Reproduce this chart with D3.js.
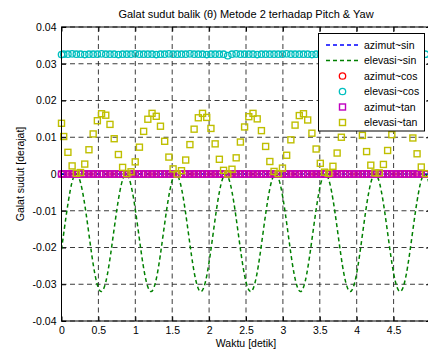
<!DOCTYPE html>
<html>
<head>
<meta charset="utf-8">
<script src="https://cdn.jsdelivr.net/npm/d3@7"></script>
<style>
body { margin: 0; background: #fff; }
svg { display: block; font-family: "Liberation Sans", Arial, sans-serif; }
</style>
</head>
<body>
<div id="vis"></div>
<script>
// marker sample times [detik]
const tMarker = [
  0, 0.030, 0.087, 0.144, 0.201, 0.258, 0.315, 0.372, 0.429, 0.486,
  0.543, 0.600, 0.657, 0.714, 0.771, 0.828, 0.885, 0.942, 0.999, 1.056,
  1.113, 1.170, 1.227, 1.284, 1.341, 1.398, 1.455, 1.512, 1.569, 1.626,
  1.683, 1.740, 1.797, 1.854, 1.911, 1.968, 2.025, 2.082, 2.139, 2.196,
  2.253, 2.310, 2.367, 2.424, 2.481, 2.538, 2.595, 2.652, 2.709, 2.766,
  2.823, 2.880, 2.937, 2.994, 3.051, 3.108, 3.165, 3.222, 3.279, 3.336,
  3.393, 3.450, 3.507, 3.564, 3.621, 3.678, 3.735, 3.792, 3.849, 3.906,
  3.963, 4.020, 4.077, 4.134, 4.191, 4.248, 4.305, 4.362, 4.419, 4.476,
  4.533, 4.590, 4.647, 4.704, 4.761, 4.818, 4.875, 4.932
];
const azimutCos = [
  0, 0, 0, 0, 0, 0, 0, 0, 0, 0,
  0, 0, 0, 0, 0, 0, 0, 0, 0, 0,
  0, 0, 0, 0, 0, 0, 0, 0, 0, 0,
  0, 0, 0, 0, 0, 0, 0, 0, 0, 0,
  0, 0, 0, 0, 0, 0, 0, 0, 0, 0,
  0, 0, 0, 0, 0, 0, 0, 0, 0, 0,
  0, 0, 0, 0, 0, 0, 0, 0, 0, 0,
  0, 0, 0, 0, 0, 0, 0, 0, 0, 0,
  0, 0, 0, 0, 0, 0, 0, 0
];
const elevasiCos = [
  0.0325, 0.0326, 0.0326, 0.0327, 0.0326, 0.0326, 0.0325, 0.0326, 0.0326, 0.0326,
  0.0327, 0.0326, 0.0326, 0.0326, 0.0325, 0.0326, 0.0326, 0.0326, 0.0327, 0.0326,
  0.0326, 0.0326, 0.0326, 0.0325, 0.0326, 0.0326, 0.0327, 0.0326, 0.0326, 0.0326,
  0.0326, 0.0327, 0.0326, 0.0326, 0.0326, 0.0325, 0.0326, 0.0326, 0.0326, 0.0326,
  0.0322, 0.0326, 0.0327, 0.0326, 0.0326, 0.0326, 0.0326, 0.0325, 0.0326, 0.0326,
  0.0326, 0.0326, 0.0326, 0.0326, 0.0327, 0.0326, 0.0326, 0.0326, 0.0326, 0.0326,
  0.0325, 0.0326, 0.0326, 0.0326, 0.0326, 0.0326, 0.0327, 0.0326, 0.0326, 0.0326,
  0.0326, 0.0326, 0.0326, 0.0325, 0.0326, 0.0323, 0.0326, 0.0326, 0.0327, 0.0326,
  0.0326, 0.0326, 0.0326, 0.0326, 0.0326, 0.0325, 0.0326, 0.0326
];
const azimutTan = [
  0, 0, 0, 0, 0, 0, 0, 0, 0, 0,
  0, 0, 0, 0, 0, 0, 0, 0, 0, 0,
  0, 0, 0, 0, 0, 0, 0, 0, 0, 0,
  0, 0, 0, 0, 0, 0, 0, 0, 0, 0,
  0, 0, 0, 0, 0, 0, 0, 0, 0, 0,
  0, 0, 0, 0, 0, 0, 0, 0, 0, 0,
  0, 0, 0, 0, 0, 0, 0, 0, 0, 0,
  0, 0, 0, 0, 0, 0, 0, 0, 0, 0,
  0, 0, 0, 0, 0, 0, 0, 0
];
const elevasiTan = [
  0.0138, 0.0102, 0.0059, 0.0022, 0.0002, 0.0004, 0.0027, 0.0066, 0.0109, 0.0145,
  0.0164, 0.0160, 0.0135, 0.0096, 0.0053, 0.0018, 0.0001, 0.0006, 0.0033, 0.0073,
  0.0116, 0.0149, 0.0165, 0.0157, 0.0130, 0.0089, 0.0046, 0.0014, 0.0000, 0.0009,
  0.0038, 0.0080, 0.0122, 0.0153, 0.0165, 0.0154, 0.0124, 0.0082, 0.0040, 0.0010,
  0.0000, 0.0013, 0.0044, 0.0087, 0.0128, 0.0156, 0.0165, 0.0150, 0.0118, 0.0075,
  0.0034, 0.0007, 0.0001, 0.0016, 0.0051, 0.0093, 0.0133, 0.0159, 0.0164, 0.0147,
  0.0111, 0.0068, 0.0029, 0.0005, 0.0002, 0.0021, 0.0057, 0.0100, 0.0138, 0.0162,
  0.0163, 0.0142, 0.0105, 0.0061, 0.0024, 0.0003, 0.0003, 0.0026, 0.0064, 0.0107,
  0.0143, 0.0163, 0.0161, 0.0137, 0.0098, 0.0055, 0.0019, 0.0001
];

// line series (read at peaks, troughs and in between)
const tSin = [
  0, 0.031, 0.116, 0.200, 0.284, 0.369, 0.453, 0.538, 0.622, 0.706,
  0.791, 0.875, 0.959, 1.044, 1.128, 1.213, 1.297, 1.381, 1.466, 1.550,
  1.634, 1.719, 1.803, 1.888, 1.972, 2.056, 2.141, 2.225, 2.309, 2.394,
  2.478, 2.563, 2.647, 2.731, 2.816, 2.900, 2.984, 3.069, 3.153, 3.238,
  3.322, 3.406, 3.491, 3.575, 3.659, 3.744, 3.828, 3.913, 3.997, 4.081,
  4.166, 4.250, 4.334, 4.419, 4.503, 4.588, 4.672, 4.756, 4.841, 4.925, 5.009
];
const elevasiSin = [
  -0.0205, -0.016, -0.0047, 0,
  -0.0047, -0.016, -0.0273, -0.032, -0.0273, -0.016, -0.0047, 0,
  -0.0047, -0.016, -0.0273, -0.032, -0.0273, -0.016, -0.0047, 0,
  -0.0047, -0.016, -0.0273, -0.032, -0.0273, -0.016, -0.0047, 0,
  -0.0047, -0.016, -0.0273, -0.032, -0.0273, -0.016, -0.0047, 0,
  -0.0047, -0.016, -0.0273, -0.032, -0.0273, -0.016, -0.0047, 0,
  -0.0047, -0.016, -0.0273, -0.032, -0.0273, -0.016, -0.0047, 0,
  -0.0047, -0.016, -0.0273, -0.032, -0.0273, -0.016, -0.0047, 0,
  -0.0047
];
const tAzSin = [0, 5];
const azimutSin = [0, 0];

const xTicks = [0, 0.5, 1, 1.5, 2, 2.5, 3, 3.5, 4, 4.5, 5];
const yTicks = [-0.04, -0.03, -0.02, -0.01, 0, 0.01, 0.02, 0.03, 0.04];
const legendLabels = ['azimut~sin', 'elevasi~sin', 'azimut~cos', 'elevasi~cos', 'azimut~tan', 'elevasi~tan'];

class GalatChart {
    constructor() {
        this.config = {
            width: 428,
            height: 354,
            left: 61.5,
            right: 430.5,
            top: 27,
            bottom: 321
        };
        this.initVis();
    }
    initVis() {
        let vis = this;
        let c = vis.config;
        vis.svg = d3.select('#vis')
            .append('svg')
            .attr('width', c.width)
            .attr('height', c.height);

        vis.x = d3.scaleLinear().domain([0, 5]).range([c.left, c.right]);
        vis.y = d3.scaleLinear().domain([-0.04, 0.04]).range([c.bottom, c.top]);

        vis.svg.append('defs').append('clipPath').attr('id', 'plotclip')
            .append('rect')
            .attr('x', c.left).attr('y', c.top)
            .attr('width', c.right - c.left).attr('height', c.bottom - c.top);

        vis.svg.append('rect')
            .attr('x', c.left).attr('y', c.top)
            .attr('width', c.right - c.left).attr('height', c.bottom - c.top)
            .attr('fill', '#fff');
    }
    renderVis() {
        let vis = this;
        let c = vis.config;
        const x = vis.x, y = vis.y;

        // grid
        const grid = vis.svg.append('g')
            .attr('stroke', '#000')
            .attr('stroke-width', 0.9)
            .attr('stroke-dasharray', '5,3.5')
            .attr('opacity', 0.85);
        grid.selectAll('.gx').data(xTicks).join('line')
            .attr('x1', d => x(d)).attr('x2', d => x(d))
            .attr('y1', c.bottom).attr('y2', c.top);
        grid.selectAll('.gy').data(yTicks).join('line')
            .attr('y1', d => y(d)).attr('y2', d => y(d))
            .attr('x1', c.left).attr('x2', c.right);

        // axes, ticks pointing inward
        const fmt = d => d === 0 ? '0' : d3.format('.2f')(d).replace('−', '-');
        const xAxis = vis.svg.append('g')
            .attr('transform', `translate(0,${c.bottom})`)
            .call(d3.axisBottom(x).tickValues(xTicks.slice(0, 10)).tickSize(-4.5).tickPadding(6)
                .tickFormat(d3.format('')));
        const yAxis = vis.svg.append('g')
            .attr('transform', `translate(${c.left},0)`)
            .call(d3.axisLeft(y).tickValues(yTicks).tickSize(-4.5).tickPadding(5).tickFormat(fmt));
        const topAxis = vis.svg.append('g')
            .attr('transform', `translate(0,${c.top})`)
            .call(d3.axisTop(x).tickValues(xTicks).tickSize(-4.5).tickFormat(''));
        const rightAxis = vis.svg.append('g')
            .attr('transform', `translate(${c.right},0)`)
            .call(d3.axisRight(y).tickValues(yTicks).tickSize(-4.5).tickFormat(''));
        [xAxis, yAxis, topAxis, rightAxis].forEach(a => {
            a.select('.domain').remove();
            a.selectAll('line').attr('stroke', '#000');
            a.selectAll('text').attr('fill', '#000').style('font-size', '10.5px');
        });

        const plot = vis.svg.append('g');
        const clipped = plot.append('g').attr('clip-path', 'url(#plotclip)');

        // azimut~sin
        clipped.append('path')
            .datum(d3.zip(tAzSin, azimutSin))
            .attr('fill', 'none')
            .attr('stroke', '#0000ff')
            .attr('stroke-width', 1.4)
            .attr('stroke-dasharray', '4,3')
            .attr('d', d3.line().x(d => x(d[0])).y(d => y(d[1])));

        // elevasi~sin
        clipped.append('path')
            .datum(d3.zip(tSin, elevasiSin))
            .attr('fill', 'none')
            .attr('stroke', '#008000')
            .attr('stroke-width', 1.5)
            .attr('stroke-dasharray', '4,3')
            .attr('d', d3.line().curve(d3.curveNatural).x(d => x(d[0])).y(d => y(d[1])));

        function circles(vals, color) {
            plot.append('g').selectAll('circle')
                .data(d3.zip(tMarker, vals))
                .join('circle')
                .attr('cx', d => x(d[0]))
                .attr('cy', d => y(d[1]))
                .attr('r', 3.2)
                .attr('fill', 'none')
                .attr('stroke', color)
                .attr('stroke-width', 1.3);
        }
        function squares(vals, color) {
            const s = 6;
            plot.append('g').selectAll('rect')
                .data(d3.zip(tMarker, vals))
                .join('rect')
                .attr('x', d => x(d[0]) - s / 2)
                .attr('y', d => y(d[1]) - s / 2)
                .attr('width', s)
                .attr('height', s)
                .attr('fill', 'none')
                .attr('stroke', color)
                .attr('stroke-width', 1.4);
        }
        circles(azimutCos, '#ff0000');
        circles(elevasiCos, '#00bfbf');
        squares(azimutTan, '#bf00bf');
        squares(elevasiTan, '#bfbf00');

        // frame
        vis.svg.append('rect')
            .attr('x', c.left).attr('y', c.top)
            .attr('width', c.right - c.left).attr('height', c.bottom - c.top)
            .attr('fill', 'none')
            .attr('stroke', '#000')
            .attr('stroke-width', 1);

        // labels
        vis.svg.append('text')
            .attr('x', (c.left + c.right) / 2).attr('y', 17.5)
            .attr('text-anchor', 'middle')
            .style('font-size', '11px')
            .text('Galat sudut balik (θ) Metode 2 terhadap Pitch & Yaw');
        vis.svg.append('text')
            .attr('x', (c.left + c.right) / 2).attr('y', 347)
            .attr('text-anchor', 'middle')
            .style('font-size', '10.5px')
            .text('Waktu [detik]');
        vis.svg.append('text')
            .attr('transform', `translate(23.5,${(c.top + c.bottom) / 2}) rotate(-90)`)
            .attr('text-anchor', 'middle')
            .style('font-size', '10.5px')
            .text('Galat sudut [derajat]');

        // legend
        const lg = vis.svg.append('g');
        lg.append('rect')
            .attr('x', 318.5).attr('y', 33.5)
            .attr('width', 106).attr('height', 97.5)
            .attr('fill', '#fff')
            .attr('stroke', '#000');
        const kinds = [
            {type: 'line', color: '#0000ff'},
            {type: 'line', color: '#008000'},
            {type: 'circle', color: '#ff0000'},
            {type: 'circle', color: '#00bfbf'},
            {type: 'square', color: '#bf00bf'},
            {type: 'square', color: '#bfbf00'}
        ];
        const row = lg.selectAll('g.row')
            .data(legendLabels)
            .join('g')
            .attr('transform', (d, i) => `translate(0,${45 + i * 15.5})`);
        row.each(function(d, i) {
            const g = d3.select(this);
            const k = kinds[i];
            if (k.type === 'line') {
                g.append('line')
                    .attr('x1', 326).attr('x2', 358.5)
                    .attr('stroke', k.color).attr('stroke-width', 1.4)
                    .attr('stroke-dasharray', '4,3');
            } else if (k.type === 'circle') {
                g.append('circle').attr('cx', 342.5).attr('r', 3.2)
                    .attr('fill', 'none').attr('stroke', k.color).attr('stroke-width', 1.3);
            } else {
                g.append('rect').attr('x', 339.5).attr('y', -3).attr('width', 6).attr('height', 6)
                    .attr('fill', 'none').attr('stroke', k.color).attr('stroke-width', 1.4);
            }
            g.append('text')
                .attr('x', 364).attr('y', 3.8)
                .style('font-size', '10.5px')
                .text(d);
        });
    }
}

const chart = new GalatChart();
chart.renderVis();
</script>
</body>
</html>
